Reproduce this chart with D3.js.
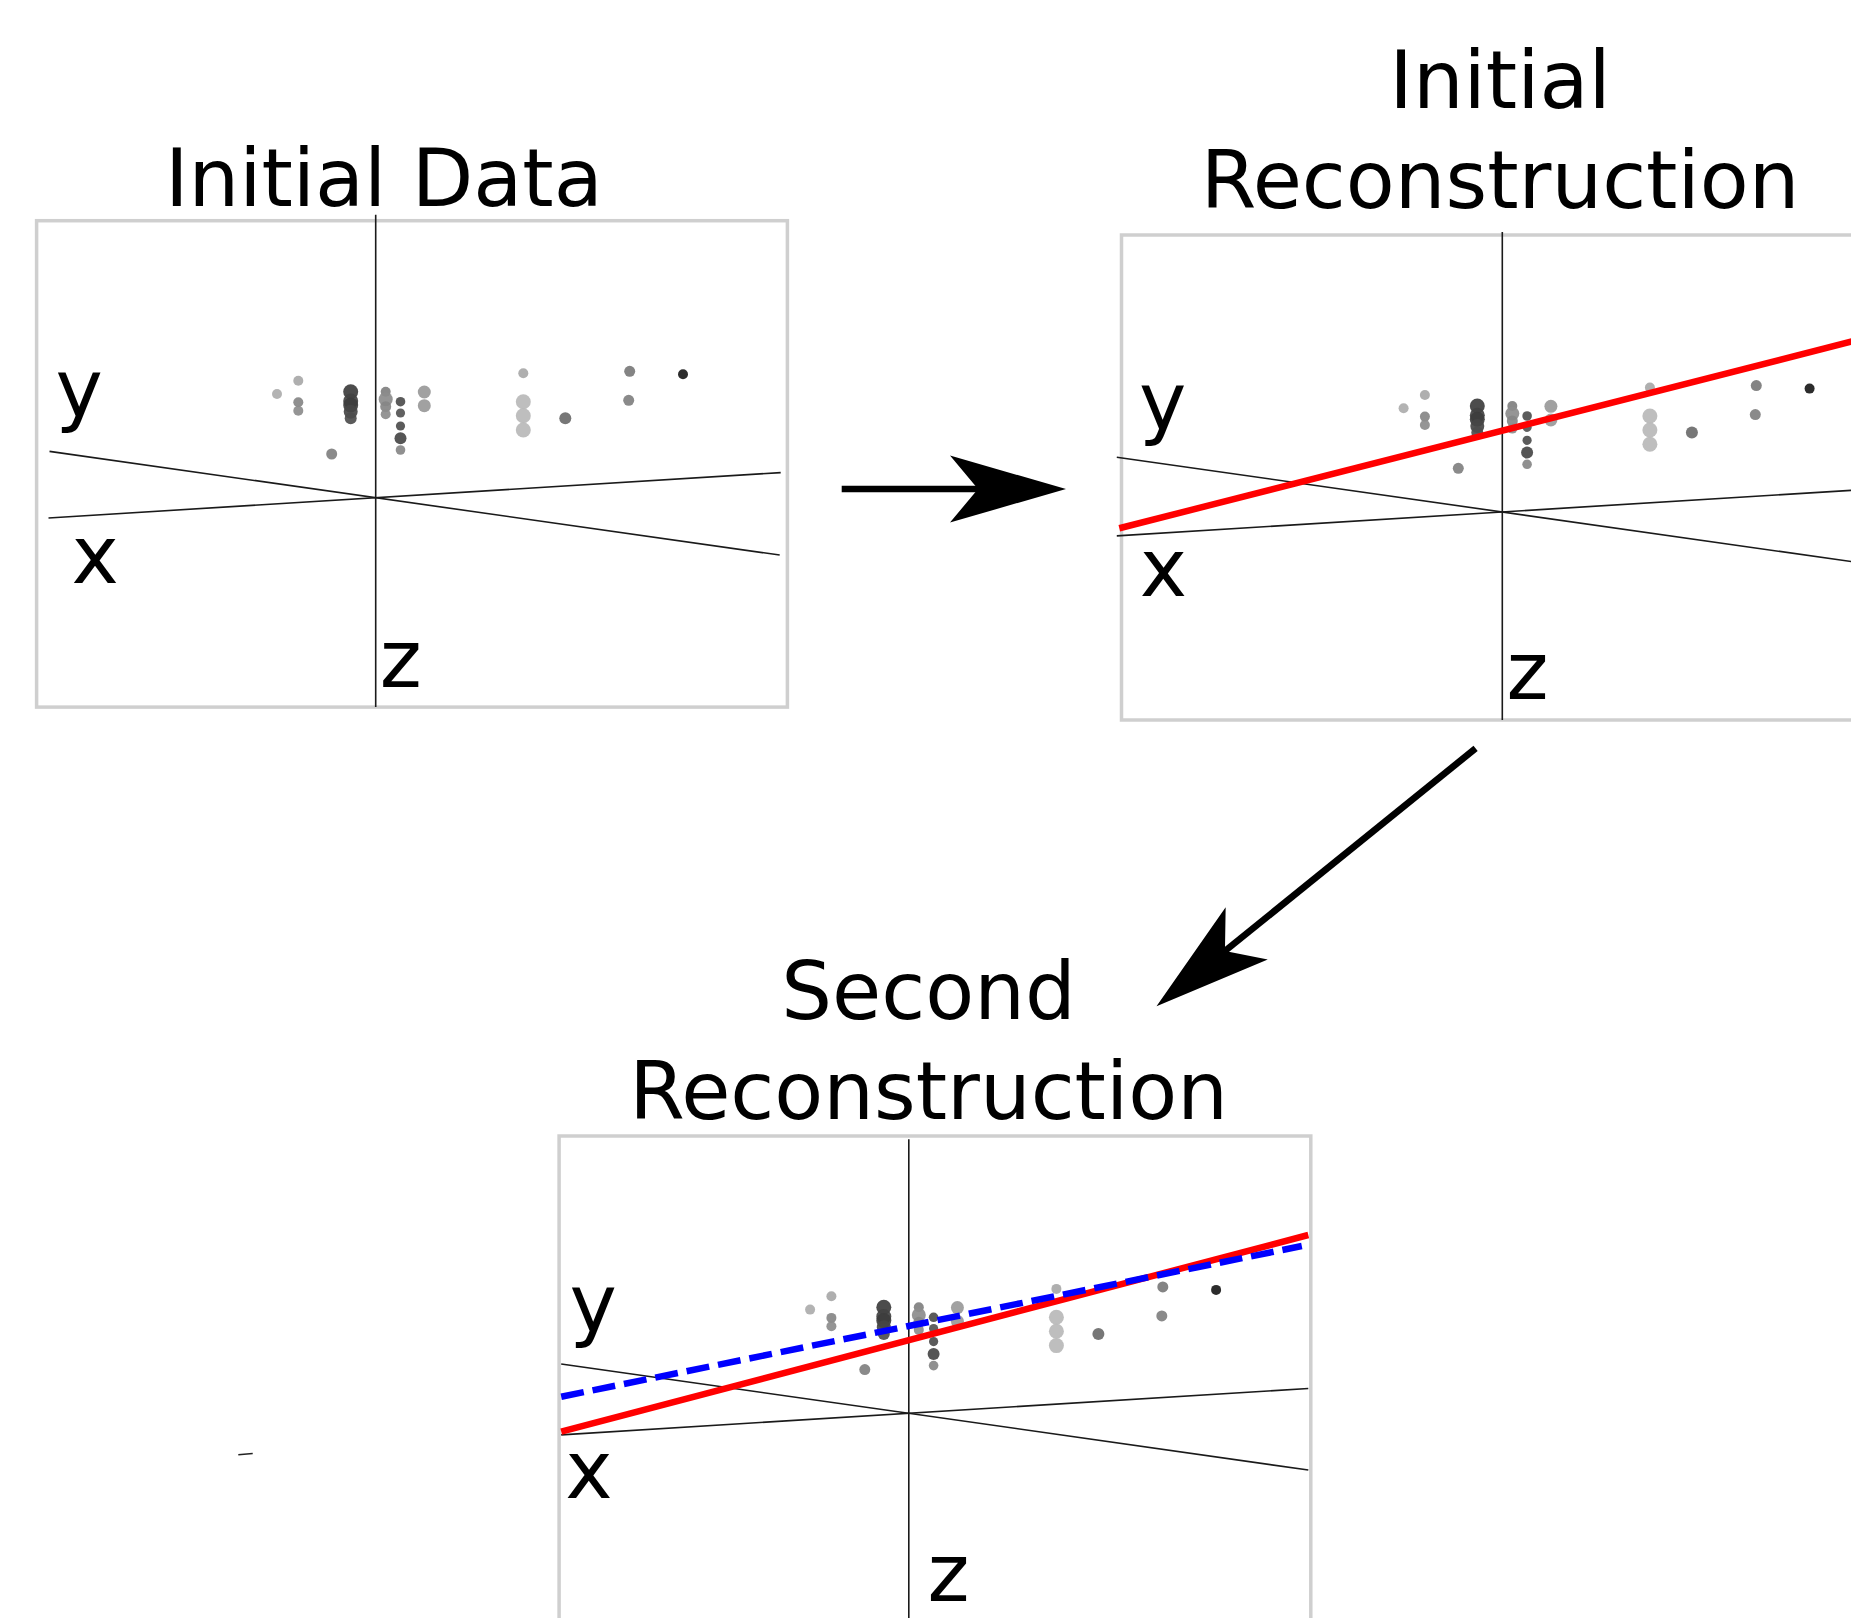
<!DOCTYPE html>
<html>
<head>
<meta charset="utf-8">
<script src="https://cdn.jsdelivr.net/npm/d3@7"></script>
<style>
  html, body { margin: 0; padding: 0; background: #fff; }
  svg { display: block; }
  text { font-family: "DejaVu Sans", sans-serif; fill: #000; }
</style>
</head>
<body>
<svg id="chart" width="1851" height="1618"></svg>
<script>
// projected point cloud (same in every panel), 1 unit = 100px
var pointU = [-0.987, -0.774, -0.774, -0.774, -0.25, -0.25, -0.25, -0.25, -0.25, -0.44,
              0.10, 0.10, 0.10, 0.10, 0.248, 0.248, 0.248, 0.248, 0.248, 0.486, 0.486,
              1.476, 1.476, 1.476, 1.476, 1.896, 2.54, 2.53, 3.073];
var pointV = [1.037, 1.170, 0.954, 0.870, 1.06, 0.967, 0.927, 0.86, 0.794, 0.437,
              1.06, 0.984, 0.91, 0.834, 0.96, 0.847, 0.717, 0.594, 0.477, 1.057, 0.92,
              1.244, 0.96, 0.82, 0.677, 0.794, 1.264, 0.974, 1.234];
var pointSize = [5, 5, 5, 5, 7.5, 7.5, 7.5, 7, 6, 5.5,
                 5, 7, 5.5, 5, 4.8, 4.6, 4.6, 6, 4.8, 6.5, 6.5,
                 5, 7.5, 7.5, 7.5, 6, 5.5, 5.5, 5];
// grey level of each point (0 = black, 1 = white)
var pointShade = [0.68, 0.66, 0.52, 0.55, 0.24, 0.26, 0.24, 0.27, 0.30, 0.50,
                  0.50, 0.55, 0.52, 0.55, 0.30, 0.33, 0.30, 0.28, 0.53, 0.60, 0.60,
                  0.66, 0.72, 0.72, 0.72, 0.42, 0.48, 0.50, 0.10];

var titles = [["Initial Data"], ["Initial", "Reconstruction"], ["Second", "Reconstruction"]];
var axisNames = ["x", "y", "z"];

// fitted lines
var fitPanel = [1, 2, 2];
var fitIntercept = [0.814, 0.731, 0.873];
var fitSlope = [0.255, 0.2633, 0.2035];
var fitStart = [-3.83, -3.476, -3.476];
var fitEnd = [4.2, 3.995, 3.93];
var fitColor = ["#ff0000", "#ff0000", "#0000ff"];
var fitDashed = [false, false, true];

var svg = d3.select("#chart");
svg.append("rect").attr("width", 1851).attr("height", 1618).attr("fill", "#fff");

// layout of each panel
var panels = [
  {ox: 375.7, oy: 497.7, box: [-3.391, 4.117, 2.77, -2.094], axA: [-3.262, 4.04], axB: [-3.272, 4.05], zTop: 2.83, zBot: -2.094,
   lab: {x: [-3.041, -0.856], y: [-3.203, 0.822], z: [0.04, -1.896]}, title: {x: 383.8, y: [206]}},
  {ox: 1502.3, oy: 512, box: [-3.808, 3.8, 2.77, -2.08], axA: [-3.855, 4], axB: [-3.855, 4], zTop: 2.80, zBot: -2.08,
   lab: {x: [-3.626, -0.84], y: [-3.632, 0.832], z: [0.042, -1.87]}, title: {x: 1500, y: [108.3, 208.3]}},
  {ox: 908.8, oy: 1413.3, box: [-3.497, 4.02, 2.773, -2.2], axA: [-3.476, 3.995], axB: [-3.476, 3.995], zTop: 2.74, zBot: -2.2,
   lab: {x: [-3.435, -0.844], y: [-3.392, 0.828], z: [0.186, -1.877]}, title: {x: 928.5, y: [1019.3, 1119.3]}}
];
var slopeA = -0.142, slopeB = 0.062;
var grey = d3.interpolateRgb("#000", "#fff");

panels.forEach(function(p, i){
  var x = d3.scaleLinear().domain([-1, 1]).range([p.ox - 100, p.ox + 100]),
      y = d3.scaleLinear().domain([-1, 1]).range([p.oy + 100, p.oy - 100]);
  var g = svg.append("g").attr("class", "panel_" + i);

  g.append("rect")
    .attr("x", x(p.box[0])).attr("y", y(p.box[2]))
    .attr("width", x(p.box[1]) - x(p.box[0]))
    .attr("height", y(p.box[3]) - y(p.box[2]))
    .attr("fill", "#fff").attr("stroke", "#cfcfcf").attr("stroke-width", 3.5);

  var line = d3.line().x(function(d){ return x(d[0]); }).y(function(d){ return y(d[1]); });
  g.append("path").attr("d", line([[p.axA[0], p.axA[0]*slopeA], [p.axA[1], p.axA[1]*slopeA]]))
    .attr("stroke", "#1a1a1a").attr("stroke-width", 1.6).attr("fill", "none");
  g.append("path").attr("d", line([[p.axB[0], p.axB[0]*slopeB], [p.axB[1], p.axB[1]*slopeB]]))
    .attr("stroke", "#1a1a1a").attr("stroke-width", 1.6).attr("fill", "none");
  g.append("path").attr("d", line([[0, p.zTop], [0, p.zBot]]))
    .attr("stroke", "#1a1a1a").attr("stroke-width", 1.6).attr("fill", "none");

  g.selectAll("circle.pt").data(d3.range(pointU.length)).enter().append("circle")
    .attr("class", "pt")
    .attr("cx", function(k){ return x(pointU[k]); })
    .attr("cy", function(k){ return y(pointV[k]); })
    .attr("r", function(k){ return pointSize[k]; })
    .attr("fill", function(k){ return grey(pointShade[k]); })
    .attr("fill-opacity", 0.92);

  fitPanel.forEach(function(fp, k){
    if(fp !== i) return;
    g.append("path")
      .attr("d", line([[fitStart[k], fitIntercept[k] + fitSlope[k]*fitStart[k]],
                       [fitEnd[k], fitIntercept[k] + fitSlope[k]*fitEnd[k]]]))
      .attr("stroke", fitColor[k]).attr("stroke-width", 6.5).attr("fill", "none")
      .attr("stroke-dasharray", fitDashed[k] ? "23,9" : null);
  });

  axisNames.forEach(function(n){
    g.append("text").attr("x", x(p.lab[n][0])).attr("y", y(p.lab[n][1]))
      .attr("font-size", 80).text(n);
  });

  titles[i].forEach(function(t, j){
    svg.append("text").attr("x", p.title.x).attr("y", p.title.y[j])
      .attr("text-anchor", "middle").attr("font-size", 80).text(t);
  });
});

// arrows between panels
function arrow(x0, y0, x1, y1){
  var dx = x1 - x0, dy = y1 - y0, len = Math.sqrt(dx*dx + dy*dy),
      ux = dx/len, uy = dy/len, px = -uy, py = ux,
      hl = 116, hw = 33.5, notch = 88;
  svg.append("line")
    .attr("x1", x0).attr("y1", y0)
    .attr("x2", x1 - ux*(notch - 4)).attr("y2", y1 - uy*(notch - 4))
    .attr("stroke", "#000").attr("stroke-width", 6.7);
  svg.append("path")
    .attr("d", "M" + x1 + "," + y1 +
      "L" + (x1 - ux*hl + px*hw) + "," + (y1 - uy*hl + py*hw) +
      "L" + (x1 - ux*notch) + "," + (y1 - uy*notch) +
      "L" + (x1 - ux*hl - px*hw) + "," + (y1 - uy*hl - py*hw) + "Z")
    .attr("fill", "#000");
}
arrow(841.7, 489, 1066, 489);
arrow(1475.6, 748.4, 1156.5, 1006.3);

// stray mark
svg.append("line").attr("x1", 238.3).attr("y1", 1454.8).attr("x2", 252.7).attr("y2", 1453.6)
  .attr("stroke", "#222").attr("stroke-width", 1.5);
</script>
</body>
</html>
